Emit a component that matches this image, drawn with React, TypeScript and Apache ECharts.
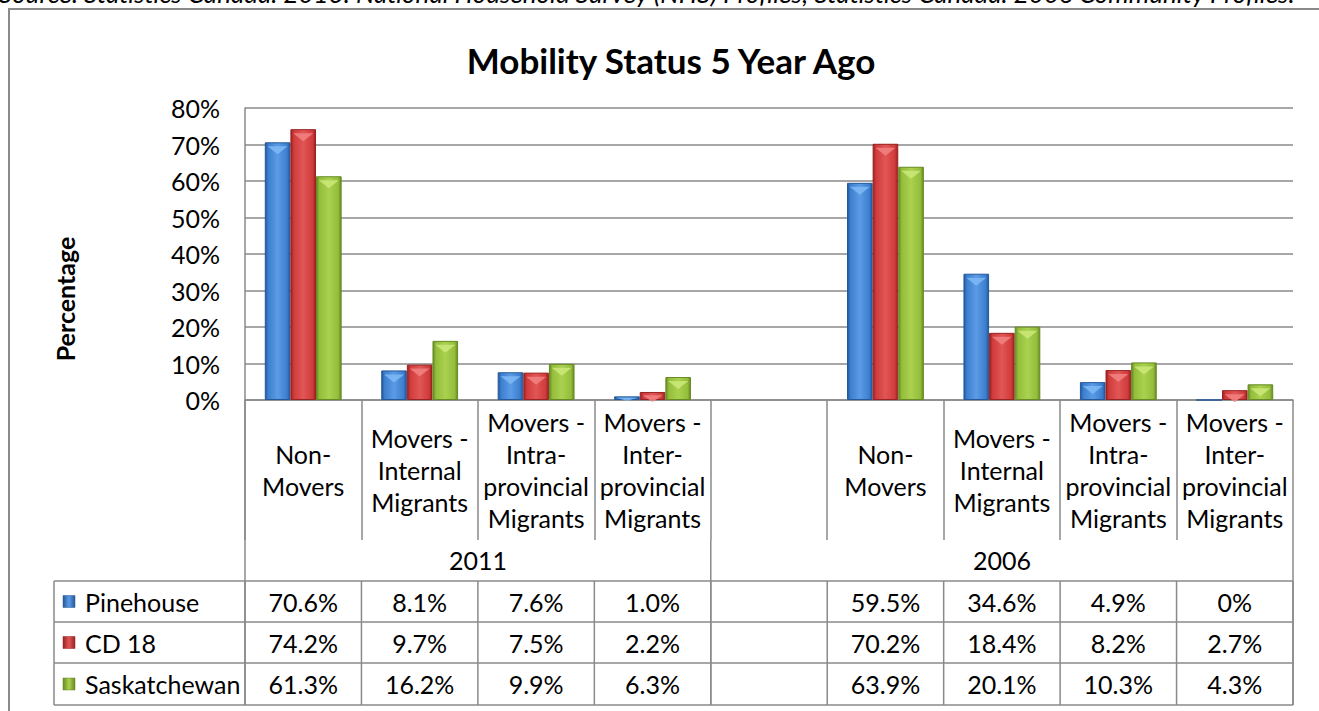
import React, { useEffect, useRef } from "react";
import * as echarts from "echarts";

const categories = [
  "Non-\nMovers",
  "Movers -\nInternal\nMigrants",
  "Movers -\nIntra-\nprovincial\nMigrants",
  "Movers -\nInter-\nprovincial\nMigrants",
];
const years = ["2011", "2006"];
const seriesNames = ["Pinehouse", "CD 18", "Saskatchewan"];
const pinehouse2011 = [70.6, 8.1, 7.6, 1.0];
const pinehouse2006 = [59.5, 34.6, 4.9, 0];
const cd182011 = [74.2, 9.7, 7.5, 2.2];
const cd182006 = [70.2, 18.4, 8.2, 2.7];
const sask2011 = [61.3, 16.2, 9.9, 6.3];
const sask2006 = [63.9, 20.1, 10.3, 4.3];
const yTicks = [0, 10, 20, 30, 40, 50, 60, 70, 80];
const titleText = "Mobility Status 5 Year Ago";
const sourceText =
  "Source: Statistics Canada. 2013. National Household Survey (NHS) Profiles; Statistics Canada. 2006 Community Profiles.";

const FONT = "Lato, 'Open Sans', sans-serif";
const FS = 25;
const GRID_L = 245;
const GRID_R = 1293;
const GRID_T = 108;
const GRID_B = 400;
const LINE = "#8a8a8a";

const palette = [
  { base: "#3d7fcf", light: "#5b9be6", dark: "#24589a", tip: "#7fbaf5" },
  { base: "#d13b3b", light: "#e05656", dark: "#992222", tip: "#f28383" },
  { base: "#94bd3c", light: "#aad24f", dark: "#678a22", tip: "#cbe97a" },
];

const fmt = (v: number) => (v === 0 ? "0%" : v.toFixed(1) + "%");

export default function App() {
  const ref = useRef<HTMLDivElement>(null);
  useEffect(() => {
    if (!ref.current) return;
    const chart = echarts.init(ref.current, undefined, { renderer: "svg" });
    const xCats = [...categories, "", ...categories];
    const rows = [
      { name: seriesNames[0], a: pinehouse2011, b: pinehouse2006 },
      { name: seriesNames[1], a: cd182011, b: cd182006 },
      { name: seriesNames[2], a: sask2011, b: sask2006 },
    ];
    const slot = (GRID_R - GRID_L) / xCats.length;

    const barSeries: any[] = rows.map((r, i) => {
      const c = palette[i];
      return {
        type: "bar",
        name: r.name,
        data: [...r.a, null, ...r.b],
        barGap: "0%",
        barCategoryGap: "34%",
        itemStyle: {
          color: new echarts.graphic.LinearGradient(0, 0, 1, 0, [
            { offset: 0, color: c.dark },
            { offset: 0.12, color: c.base },
            { offset: 0.5, color: c.light },
            { offset: 0.88, color: c.base },
            { offset: 1, color: c.dark },
          ]),
          borderColor: c.dark,
          borderWidth: 1,
        },
      };
    });
    const tipSeries: any[] = rows.map((r, i) => {
      const c = palette[i];
      const vals = [...r.a, null, ...r.b];
      return {
        type: "pictorialBar",
        name: r.name + " tip",
        barGap: "0%",
        barCategoryGap: "34%",
        symbol: "path://M0,0 L20,0 L10,8 Z",
        symbolPosition: "end",
        symbolOffset: [0, "50%"],
        z: 3,
        itemStyle: { color: c.tip, opacity: 0.85 },
        data: vals.map((v) =>
          v === null || v === 0
            ? null
            : { value: v, symbolSize: ["78%", Math.min(8, v * 3)] }
        ),
      };
    });

    const g: any[] = [];
    g.push({
      type: "rect",
      shape: { x: 9, y: 9, width: 1400, height: 800 },
      style: { fill: "none", stroke: LINE, lineWidth: 2 },
    });
    g.push({
      type: "text",
      x: -1,
      y: 6,
      style: {
        text: sourceText,
        font: `italic 26px ${FONT}`,
        fill: "#000",
        textAlign: "left",
        textVerticalAlign: "bottom",
      },
    });
    g.push({
      type: "text",
      x: 65,
      y: 299,
      rotation: Math.PI / 2,
      style: {
        text: "Percentage",
        font: `bold ${FS}px ${FONT}`,
        fill: "#000",
        textAlign: "center",
        textVerticalAlign: "middle",
      },
    });
    const vline = (x: number, y1: number, y2: number) =>
      g.push({
        type: "line",
        shape: { x1: x, y1, x2: x, y2 },
        style: { stroke: LINE, lineWidth: 1.5 },
      });
    const hline = (y: number, x1: number, x2: number) =>
      g.push({
        type: "line",
        shape: { x1, y1: y, x2, y2: y },
        style: { stroke: LINE, lineWidth: 1.5 },
      });
    const TAB_L = 54;
    const rowY = [581, 622, 663, 705];
    const yearY = 560;
    vline(GRID_L, GRID_B, rowY[3]);
    const midX = GRID_L + slot * 4;
    vline(midX, 540, rowY[3]);
    vline(GRID_R, 540, rowY[3]);
    rowY.forEach((y) => hline(y, TAB_L, GRID_R));
    vline(TAB_L, rowY[0], rowY[3]);
    for (let k = 0; k <= xCats.length; k++) vline(GRID_L + slot * k, rowY[0], rowY[3]);
    g.push({
      type: "text",
      x: (GRID_L + midX) / 2,
      y: yearY,
      style: { text: years[0], font: `${FS}px ${FONT}`, fill: "#000", textAlign: "center", textVerticalAlign: "middle" },
    });
    g.push({
      type: "text",
      x: (midX + GRID_R) / 2,
      y: yearY,
      style: { text: years[1], font: `${FS}px ${FONT}`, fill: "#000", textAlign: "center", textVerticalAlign: "middle" },
    });
    rows.forEach((r, i) => {
      const cy = (rowY[i] + rowY[i + 1]) / 2;
      const c = palette[i];
      g.push({
        type: "rect",
        shape: { x: 63, y: cy - 6, width: 12, height: 12 },
        style: {
          fill: new echarts.graphic.LinearGradient(0, 0, 1, 0, [
            { offset: 0, color: c.dark },
            { offset: 0.5, color: c.light },
            { offset: 1, color: c.dark },
          ]),
          stroke: c.dark,
          lineWidth: 0.5,
        },
      });
      g.push({
        type: "text",
        x: 85,
        y: cy,
        style: { text: r.name, font: `${FS}px ${FONT}`, fill: "#000", textAlign: "left", textVerticalAlign: "middle" },
      });
      const vals = [...r.a, null, ...r.b];
      vals.forEach((v, k) => {
        if (v === null) return;
        g.push({
          type: "text",
          x: GRID_L + slot * (k + 0.5),
          y: cy,
          style: { text: fmt(v), font: `${FS}px ${FONT}`, fill: "#000", textAlign: "center", textVerticalAlign: "middle" },
        });
      });
    });

    chart.setOption({
      animation: false,
      backgroundColor: "#fff",
      title: {
        text: titleText,
        left: 666,
        top: 37,
        textAlign: "center",
        textStyle: { fontFamily: FONT, fontSize: 35, fontWeight: "bold", color: "#000" },
      },
      grid: { left: GRID_L, right: 1319 - GRID_R, top: GRID_T, bottom: 711 - GRID_B, containLabel: false },
      xAxis: {
        type: "category",
        data: xCats,
        axisLine: { show: true, lineStyle: { color: LINE, width: 1.5 } },
        axisTick: { show: true, interval: 0, length: 140, lineStyle: { color: LINE, width: 1.5 } },
        axisLabel: {
          interval: 0,
          margin: 70,
          verticalAlign: "middle",
          align: "center",
          lineHeight: 32,
          fontSize: FS,
          fontFamily: FONT,
          color: "#000",
        },
      },
      yAxis: {
        type: "value",
        min: yTicks[0],
        max: yTicks[yTicks.length - 1],
        interval: yTicks[1] - yTicks[0],
        axisLine: { show: true, lineStyle: { color: LINE, width: 1.5 } },
        axisTick: { show: false },
        axisLabel: { formatter: "{value}%", fontSize: FS, fontFamily: FONT, color: "#000", margin: 25 },
        splitLine: { lineStyle: { color: LINE, width: 1.5 } },
      },
      series: [...barSeries, ...tipSeries],
      graphic: g,
    });
    return () => chart.dispose();
  }, []);
  return (
    <div
      ref={ref}
      style={{ position: "absolute", left: 0, top: 0, width: 1319, height: 711, background: "#fff" }}
    />
  );
}
